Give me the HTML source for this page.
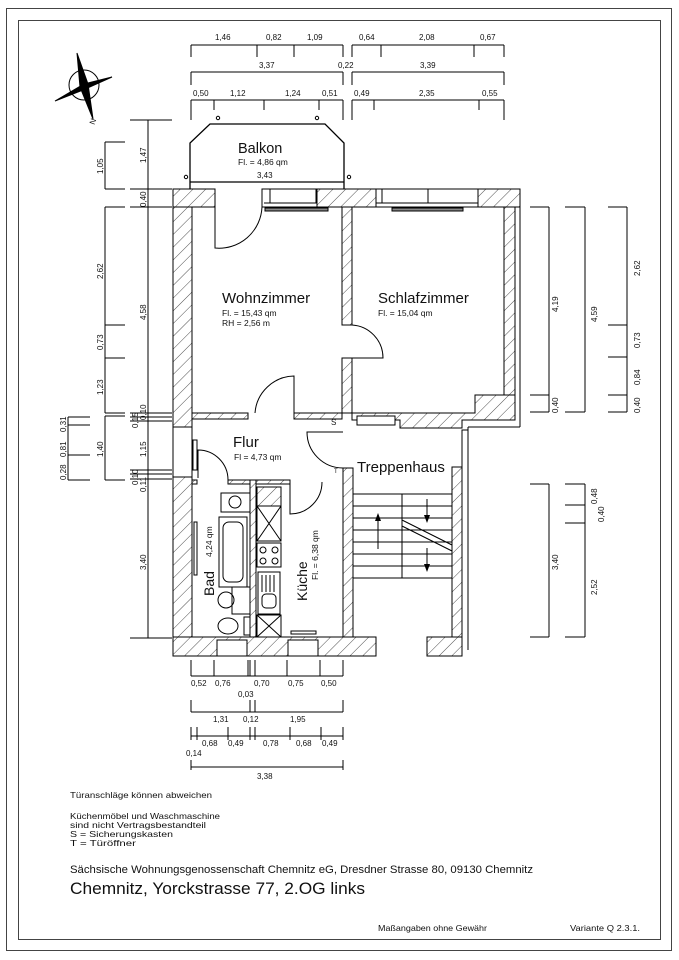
<!DOCTYPE html>
<html><head><meta charset="utf-8"><style>
html,body{margin:0;padding:0;background:#fff}
svg{display:block}
text{font-family:"Liberation Sans",sans-serif;fill:#111}
.s{font-size:8.5px}
.d{font-size:8px}
</style></head><body>
<svg width="679" height="960" viewBox="0 0 679 960" xmlns="http://www.w3.org/2000/svg">
<defs>
<pattern id="h" width="9" height="9" patternUnits="userSpaceOnUse" patternTransform="rotate(45)">
<rect width="9" height="9" fill="#fff"/><line x1="0" y1="0" x2="0" y2="9" stroke="#222" stroke-width="0.8"/>
</pattern>
</defs>
<rect x="6.5" y="8.5" width="665" height="942" fill="none" stroke="#444" stroke-width="1"/>
<rect x="18.5" y="20.5" width="642" height="919" fill="none" stroke="#444" stroke-width="1"/>

<g stroke="#000" stroke-width="1">
<circle cx="84" cy="85" r="15" fill="none"/>
<polygon points="77,53 88,84 93,119 80,87" fill="#000"/>
<polygon points="55,101 84,84 112,77 83,90" fill="#000"/>
</g>
<text x="88" y="124" class="d" transform="rotate(-70 92 120)">N</text>

<g stroke="#000" stroke-width="1" fill="none">
<path d="M191,45H343M352,45H504M191,45V57M257,45V57M294,45V57M343,45V57M352,45V57M381,45V57M474,45V57M504,45V57"/>
<path d="M191,72H343M352,72H504M191,72V85M343,72V85M352,72V85M504,72V85"/>
<path d="M191,100H343M352,100H504M191,100V120M214,100V110M264,100V110M319,100V110M343,100V120M352,100V120M374,100V110M479,100V110M504,100V120"/>
<path d="M190,189V143L210,124H325L344,143V189M190,182H344" stroke-width="1.3"/>
<circle cx="218" cy="118" r="1.7"/><circle cx="317" cy="118" r="1.7"/><circle cx="186" cy="177" r="1.7"/><circle cx="349" cy="177" r="1.7"/>

<path d="M105,142V189M105,142H125M105,189H125M105,207V413M105,207H125M105,325H125M105,358H125M105,413H125M105,416V480M105,416H125M105,480H125"/>
<path d="M148,120V638M130,120H172M130,189H172M130,207H172M130,413H172M130,417H172M130,421H172M130,470H172M130,474H172M130,479H172M130,638H172"/>
<path d="M68,417V480M68,417H90M68,425H90M68,455H90M68,480H90"/>
<path d="M549,207V412M530,207H549M530,395H549M530,412H549M549,484V637M530,484H549M530,637H549"/>
<path d="M585,207V412M565,207H585M565,412H585M585,484V637M565,484H585M565,505H585M565,523H585M565,637H585"/>
<path d="M627,207V412M608,207H627M608,325H627M608,357H627M608,395H627M608,412H627"/>
<path d="M191,676H343M191,660V676M214,660V676M248,660V676M250,660V676M255,660V676M287,660V676M320,660V676M343,660V676"/>
<path d="M191,712H343M191,700V712M250,700V712M255,700V712M343,700V712"/>
<path d="M191,736H343M191,727V740M197,727V740M228,727V740M250,727V740M255,727V740M290,727V740M321,727V740M343,727V740"/>
<path d="M191,767H343M191,760V770M343,760V770"/>
</g>

<g stroke="#000" stroke-width="1" fill="url(#h)">
<rect x="173" y="189" width="42" height="18"/>
<rect x="173" y="207" width="19" height="220"/>
<rect x="317" y="189" width="59" height="18"/>
<rect x="478" y="189" width="42" height="18"/>
<rect x="504" y="207" width="11" height="188"/>
<rect x="342" y="207" width="10" height="118"/>
<rect x="342" y="358" width="10" height="55"/>
<rect x="192" y="413" width="56" height="6"/>
<rect x="294" y="413" width="48" height="6"/>
<polygon points="352,413 475,413 475,395 515,395 515,420 462,420 462,428 400,428 400,420 352,420"/>
<rect x="173" y="477" width="19" height="179"/>
<rect x="192" y="480" width="5" height="4"/>
<rect x="228" y="480" width="22" height="4"/>
<rect x="256" y="480" width="34" height="4"/>
<rect x="250" y="480" width="6" height="157"/>
<rect x="343" y="468" width="10" height="169"/>
<rect x="452" y="467" width="10" height="170"/>
<polygon points="173,637 376,637 376,656 173,656"/>
<rect x="427" y="637" width="35" height="19"/>
</g>
<g stroke="#000" stroke-width="1" fill="#fff">
<rect x="262" y="189" width="55" height="18"/><rect x="376" y="189" width="102" height="18"/>
<rect x="217" y="640" width="30" height="16"/><rect x="288" y="640" width="30" height="16"/>
<rect x="173" y="427" width="19" height="50"/><rect x="357" y="416" width="38" height="9"/>
</g>
<g stroke="#000" stroke-width="1" fill="none">
<path d="M270,189V203M316,189V203M264,203H317M428,189V203M382,189V203M376,203H478"/>
<path d="M515,207V413M520,189V427M468,427H520M468,427V650M462,467V430H468"/>
<rect x="193" y="440" width="4" height="30"/>
<path d="M215,207V248A43,43 0 0 0 262,207"/>
<path d="M352,358H383A33,33 0 0 0 352,325"/>
<path d="M294,413V376A40,40 0 0 0 255,413"/>
<path d="M198,478V450A30,30 0 0 1 228,480"/>
<path d="M290,484V514A32,32 0 0 0 322,482"/>
<path d="M343,432H307A36,36 0 0 0 343,468"/>
<path d="M353,494H452M353,506H452M353,518H452M353,530H452M353,542H452M353,554H452M353,566H452M353,578H452M402,494V578M402,520L452,545M402,526L452,551M353,637H376"/>
<path d="M378,549V520M427,499V518M427,548V567"/>
<rect x="221" y="493" width="29" height="19"/><circle cx="235" cy="502" r="6"/>
<rect x="219" y="517" width="28" height="70"/><rect x="223" y="522" width="20" height="60" rx="6"/>
<rect x="232" y="587" width="18" height="27"/><circle cx="226" cy="600" r="8"/>
<ellipse cx="228" cy="626" rx="10" ry="8"/><rect x="244" y="617" width="6" height="18"/>
<rect x="194" y="522" width="3" height="53"/>
<rect x="257" y="487" width="24" height="19" fill="url(#h)"/>
<path d="M257,506H281V541H257ZM257,506L281,541M281,506L257,541M257,615H281V637H257ZM257,615L281,637M281,615L257,637"/>
<rect x="257" y="543" width="24" height="24"/>
<circle cx="263" cy="550" r="3"/><circle cx="275" cy="550" r="3"/><circle cx="263" cy="561" r="3"/><circle cx="275" cy="561" r="3"/>
<rect x="258" y="572" width="22" height="42"/>
<path d="M262,575V592M266,575V592M270,575V592M274,575V592"/><rect x="262" y="594" width="14" height="14" rx="4"/>
<rect x="291" y="631" width="25" height="3"/>
<rect x="265" y="208" width="63" height="3" fill="#888"/><rect x="392" y="208" width="71" height="3" fill="#888"/>
</g>
<g fill="#000">
<polygon points="378,513 375,521 381,521"/><polygon points="427,523 424,515 430,515"/><polygon points="427,572 424,564 430,564"/>
</g>

<text x="238" y="153" style="font-size:14.5px">Balkon</text>
<text x="238" y="165" class="s">Fl. = 4,86 qm</text>
<text x="257" y="178" class="d">3,43</text>
<text x="222" y="303" style="font-size:15px">Wohnzimmer</text>
<text x="222" y="316" class="s">Fl. = 15,43 qm</text>
<text x="222" y="326" class="s">RH = 2,56 m</text>
<text x="378" y="303" style="font-size:15px">Schlafzimmer</text>
<text x="378" y="316" class="s">Fl. = 15,04 qm</text>
<text x="233" y="447" style="font-size:15px">Flur</text>
<text x="234" y="460" class="s">Fl = 4,73 qm</text>
<text x="357" y="472" style="font-size:15px">Treppenhaus</text>
<text x="331" y="425" class="d">S</text><text x="334" y="473" style="font-size:6px">T</text>
<text transform="translate(214,596) rotate(-90)" style="font-size:14px">Bad</text>
<text transform="translate(212,557) rotate(-90)" class="s">4,24 qm</text>
<text transform="translate(307,601) rotate(-90)" style="font-size:14px">Küche</text>
<text transform="translate(318,580) rotate(-90)" class="s">Fl. = 6,38 qm</text>

<g class="d">
<text x="215" y="40">1,46</text><text x="266" y="40">0,82</text><text x="307" y="40">1,09</text>
<text x="359" y="40">0,64</text><text x="419" y="40">2,08</text><text x="480" y="40">0,67</text>
<text x="259" y="68">3,37</text><text x="338" y="68">0,22</text><text x="420" y="68">3,39</text>
<text x="193" y="96">0,50</text><text x="230" y="96">1,12</text><text x="285" y="96">1,24</text><text x="322" y="96">0,51</text>
<text x="354" y="96">0,49</text><text x="419" y="96">2,35</text><text x="482" y="96">0,55</text>
<text x="191" y="686">0,52</text><text x="215" y="686">0,76</text><text x="254" y="686">0,70</text><text x="288" y="686">0,75</text><text x="321" y="686">0,50</text>
<text x="238" y="697">0,03</text>
<text x="213" y="722">1,31</text><text x="243" y="722">0,12</text><text x="290" y="722">1,95</text>
<text x="202" y="746">0,68</text><text x="228" y="746">0,49</text><text x="263" y="746">0,78</text><text x="296" y="746">0,68</text><text x="322" y="746">0,49</text>
<text x="186" y="756">0,14</text>
<text x="257" y="779">3,38</text>
</g>
<g class="d">
<text transform="translate(103,174) rotate(-90)">1,05</text>
<text transform="translate(103,279) rotate(-90)">2,62</text>
<text transform="translate(103,350) rotate(-90)">0,73</text>
<text transform="translate(103,395) rotate(-90)">1,23</text>
<text transform="translate(103,457) rotate(-90)">1,40</text>
<text transform="translate(146,163) rotate(-90)">1,47</text>
<text transform="translate(146,207) rotate(-90)">0,40</text>
<text transform="translate(146,320) rotate(-90)">4,58</text>
<text transform="translate(138,428) rotate(-90)">0,15</text>
<text transform="translate(146,420) rotate(-90)">0,10</text>
<text transform="translate(146,457) rotate(-90)">1,15</text>
<text transform="translate(138,485) rotate(-90)">0,10</text>
<text transform="translate(146,492) rotate(-90)">0,11</text>
<text transform="translate(146,570) rotate(-90)">3,40</text>
<text transform="translate(66,432) rotate(-90)">0,31</text>
<text transform="translate(66,457) rotate(-90)">0,81</text>
<text transform="translate(66,480) rotate(-90)">0,28</text>
<text transform="translate(558,312) rotate(-90)">4,19</text>
<text transform="translate(558,413) rotate(-90)">0,40</text>
<text transform="translate(597,322) rotate(-90)">4,59</text>
<text transform="translate(640,276) rotate(-90)">2,62</text>
<text transform="translate(640,348) rotate(-90)">0,73</text>
<text transform="translate(640,385) rotate(-90)">0,84</text>
<text transform="translate(640,413) rotate(-90)">0,40</text>
<text transform="translate(558,570) rotate(-90)">3,40</text>
<text transform="translate(597,504) rotate(-90)">0,48</text>
<text transform="translate(604,522) rotate(-90)">0,40</text>
<text transform="translate(597,595) rotate(-90)">2,52</text>
</g>

<g style="font-size:8.5px">
<text x="70" y="798" textLength="142" lengthAdjust="spacingAndGlyphs">Türanschläge können abweichen</text>
<text x="70" y="819" textLength="150" lengthAdjust="spacingAndGlyphs">Küchenmöbel und Waschmaschine</text>
<text x="70" y="828" textLength="136" lengthAdjust="spacingAndGlyphs">sind nicht Vertragsbestandteil</text>
<text x="70" y="837" textLength="103" lengthAdjust="spacingAndGlyphs">S = Sicherungskasten</text>
<text x="70" y="846" textLength="66" lengthAdjust="spacingAndGlyphs">T = Türöffner</text>
<text x="378" y="931" textLength="109" lengthAdjust="spacingAndGlyphs">Maßangaben ohne Gewähr</text>
<text x="570" y="931" textLength="70" lengthAdjust="spacingAndGlyphs">Variante Q 2.3.1.</text>
</g>
<text x="70" y="873" style="font-size:11px" textLength="463" lengthAdjust="spacingAndGlyphs">Sächsische Wohnungsgenossenschaft Chemnitz eG, Dresdner Strasse 80, 09130 Chemnitz</text>
<text x="70" y="894" style="font-size:16.5px" textLength="295" lengthAdjust="spacingAndGlyphs">Chemnitz, Yorckstrasse 77, 2.OG links</text>
</svg>
</body></html>
